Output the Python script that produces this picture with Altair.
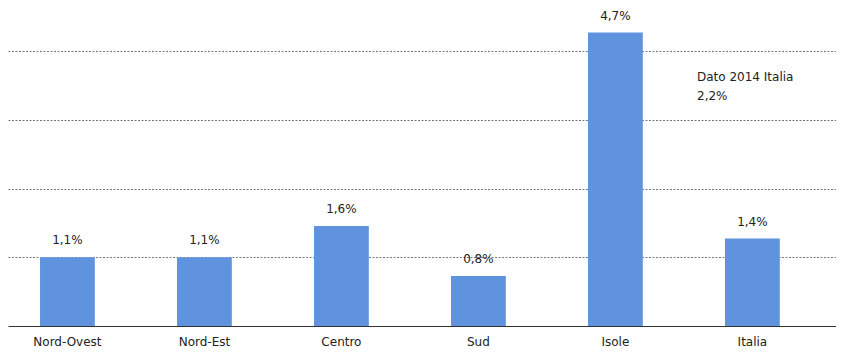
import altair as alt
import pandas as pd

regions = ["Nord-Ovest", "Nord-Est", "Centro", "Sud", "Isole", "Italia"]
values = [1.1, 1.1, 1.6, 0.8, 4.7, 1.4]
value_labels = ["1,1%", "1,1%", "1,6%", "0,8%", "4,7%", "1,4%"]
grid_values = [1.1, 2.2, 3.3, 4.4]
note_text = "Dato 2014 Italia\n2,2%"

df = pd.DataFrame({"region": regions, "value": values, "label": value_labels})

FONT = "DejaVu Sans"

x_enc = alt.X(
    "region:N",
    sort=regions,
    scale=alt.Scale(paddingInner=0.6, paddingOuter=0.322, align=0.363),
    axis=alt.Axis(
        title=None,
        labelAngle=0,
        ticks=False,
        domain=True,
        domainColor="#333333",
        domainWidth=1.2,
        labelFontSize=12,
        labelFont=FONT,
        labelColor="#222222",
        labelPadding=10,
    ),
)
y_enc = alt.Y(
    "value:Q",
    scale=alt.Scale(domain=[0, 5.094], nice=False, zero=True),
    axis=alt.Axis(
        title=None,
        values=grid_values,
        labels=False,
        ticks=False,
        domain=False,
        grid=True,
        gridDash=[2, 1.5],
        gridColor="#555555",
        gridWidth=0.8,
    ),
)

base = alt.Chart(df)

bars = base.mark_bar(color="#5f93dd").encode(x=x_enc, y=y_enc)

labels = base.mark_text(
    baseline="bottom", dy=-10, fontSize=12, font=FONT, color="#222222"
).encode(x=alt.X("region:N", sort=regions), y="value:Q", text="label:N")

note = alt.Chart(pd.DataFrame({"t": [note_text]})).mark_text(
    align="left", baseline="top", lineBreak="\n", lineHeight=19,
    fontSize=12, font=FONT, color="#222222"
).encode(x=alt.value(689), y=alt.value(64), text="t:N")

chart = (
    alt.layer(bars, labels, note)
    .properties(
        width=828,
        height=318,
        autosize=alt.AutoSizeParams(type="none"),
        padding={"left": 0, "top": 0, "right": 0, "bottom": 26},
    )
    .configure_view(stroke=None)
)

chart.save("out.html", embed_options={"renderer": "svg", "actions": False})
